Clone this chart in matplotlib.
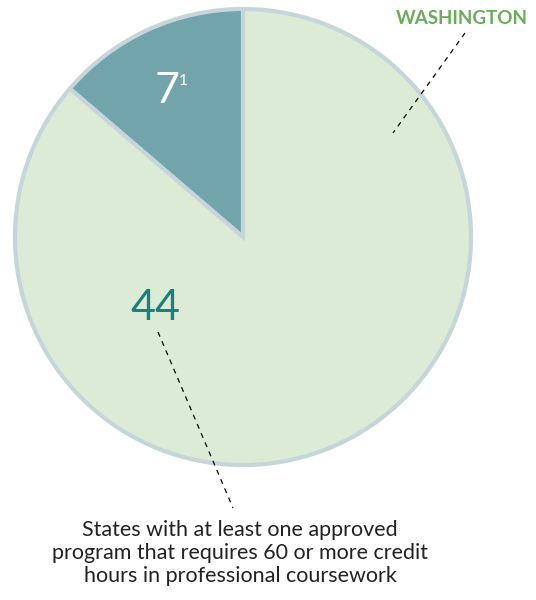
import matplotlib.pyplot as plt

# valores do gráfico
valores = [7, 44]
rotulos = ["7", "44"]
cores = ["#72a4ab", "#dcebd6"]
legenda = "States with at least one approved\nprogram that requires 60 or more credit\nhours in professional coursework"
estado = "WASHINGTON"

plt.rcParams["font.family"] = ["Lato", "DejaVu Sans"]

fig = plt.figure(figsize=(5.36, 6), dpi=100)
ax = fig.add_axes([0, 0, 1, 1])

# pizza em coordenadas de pixel (y invertido: 600 - y)
ax.pie(
    valores,
    colors=cores,
    startangle=90,
    counterclock=True,
    center=(243, 600 - 237),
    radius=228,
    wedgeprops={"edgecolor": "#c5d5da", "linewidth": 3},
    frame=True,
)
ax.set_xlim(0, 536)
ax.set_ylim(0, 600)
ax.set_aspect("equal")
ax.axis("off")

# rótulos das fatias
ax.text(167, 600 - 91, rotulos[0], color="white", fontsize=31, ha="center", va="center")
ax.text(183, 600 - 81, "1", color="white", fontsize=11, ha="center", va="center")
ax.text(155, 600 - 308, rotulos[1], color="#1a7f80", fontsize=31, ha="center", va="center")

# linhas tracejadas
ax.plot([158, 233], [600 - 332, 600 - 508], color="black", linestyle=(0, (4, 4)), linewidth=0.9)
ax.plot([465, 393], [600 - 33, 600 - 133], color="black", linestyle=(0, (4, 4)), linewidth=0.9)

ax.text(462, 600 - 18, estado, color="#6aac5a", fontsize=13.5, fontweight="bold", ha="center", va="center")
ax.text(240, 600 - 553, legenda, color="#222222", fontsize=15.5, ha="center", va="center", linespacing=1.2)

fig.savefig("out.png", dpi=100)
